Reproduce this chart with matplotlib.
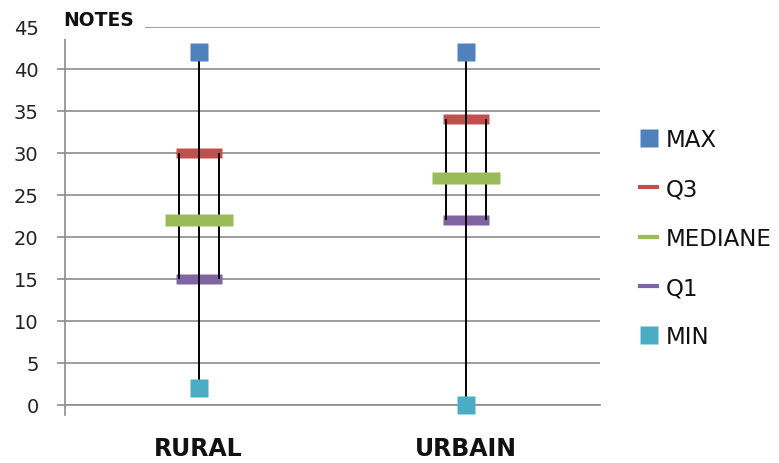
import matplotlib.pyplot as plt
from matplotlib.lines import Line2D
from matplotlib.patches import Rectangle

# données
categories = ["RURAL", "URBAIN"]
max_vals = [42, 42]
q3_vals = [30, 34]
mediane_vals = [22, 27]
q1_vals = [15, 22]
min_vals = [2, 0]
y_ticks = [0, 5, 10, 15, 20, 25, 30, 35, 40, 45]

c_max = "#4F81BD"
c_q3 = "#C0504D"
c_med = "#9BBB59"
c_q1 = "#8064A2"
c_min = "#4BACC6"
grid_col = "#8C8C8C"


def bar_marker(w, h):
    r = h / w
    return [(-1, -r), (1, -r), (1, r), (-1, r), (-1, -r)]


fig = plt.figure(figsize=(7.79, 4.64), dpi=100)
ax = fig.add_axes([0.0834, 0.125, 0.6866, 0.8147])

x = list(range(len(categories)))
off = 0.075  # demi-largeur de la boîte

# lignes haut-bas et côtés de la boîte
ax.vlines(x, min_vals, max_vals, color="black", lw=1.4, zorder=3)
ax.vlines([i - off for i in x], q1_vals, q3_vals, color="black", lw=1.4, zorder=3)
ax.vlines([i + off for i in x], q1_vals, q3_vals, color="black", lw=1.4, zorder=3)

ax.plot(x, q3_vals, ls="none", marker=bar_marker(46, 10), ms=33, color=c_q3, mec="none", zorder=2.8)
ax.plot(x, q1_vals, ls="none", marker=bar_marker(46, 11), ms=33, color=c_q1, mec="none", zorder=2.8)
ax.plot(x, mediane_vals, ls="none", marker=bar_marker(68, 12), ms=49, color=c_med, mec="none", zorder=4)
ax.plot(x, max_vals, ls="none", marker="s", ms=13, color=c_max, mec="none", zorder=4, clip_on=False)
ax.plot(x, min_vals, ls="none", marker="s", ms=13.5, color=c_min, mec="none", zorder=4, clip_on=False)

ax.set_xlim(-0.5, 1.5)
ax.set_ylim(0, 45)
ax.set_yticks(y_ticks)
ax.set_xticks(x)
ax.set_xticklabels(categories, fontsize=17, fontweight="bold", color="#111111")
ax.tick_params(axis="x", length=0, pad=22)
ax.tick_params(axis="y", length=6, width=1.2, color=grid_col, pad=13,
               labelsize=14, labelcolor="#222222")

ax.set_axisbelow(True)
ax.grid(axis="y", color=grid_col, lw=1.2)
for s in ["top", "right"]:
    ax.spines[s].set_visible(False)
ax.spines["left"].set_color(grid_col)
ax.spines["left"].set_linewidth(1.2)
ax.spines["left"].set_bounds(-1.2, 45)
ax.spines["bottom"].set_color(grid_col)
ax.spines["bottom"].set_linewidth(1.2)

# cadre blanc du titre d'axe
ax.add_patch(Rectangle((-0.02, 0.968), 0.17, 0.1, transform=ax.transAxes,
                       fc="white", ec="none", clip_on=False, zorder=9))
ax.text(-0.004, 1.021, "NOTES", transform=ax.transAxes, fontsize=13.5, fontweight="bold",
        color="#111111", ha="left", va="center", zorder=10)

handles = [
    Line2D([], [], ls="none", marker="s", ms=13, color=c_max, mec="none"),
    Line2D([], [], ls="-", lw=3, color=c_q3),
    Line2D([], [], ls="-", lw=3, color=c_med),
    Line2D([], [], ls="-", lw=3, color=c_q1),
    Line2D([], [], ls="none", marker="s", ms=13, color=c_min, mec="none"),
]
labels = ["MAX", "Q3", "MEDIANE", "Q1", "MIN"]
leg = fig.legend(handles, labels, loc="upper left", bbox_to_anchor=(0.8216, 0.722),
                 frameon=False, fontsize=16.5, handlelength=0.75, handletextpad=0.38,
                 labelspacing=1.15, borderpad=0, borderaxespad=0)
for t in leg.get_texts():
    t.set_color("#111111")

fig.savefig("out.png", dpi=100)
